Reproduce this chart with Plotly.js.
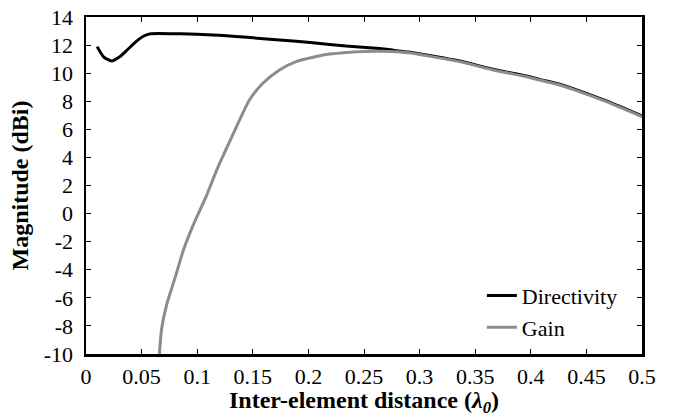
<!DOCTYPE html>
<html>
<head>
<meta charset="utf-8">
<script src="https://cdn.plot.ly/plotly-3.0.1.min.js"></script>
<style>
html,body{margin:0;padding:0;background:#fff;}
#chart{width:686px;height:417px;}
</style>
</head>
<body>
<div id="chart"></div>
<script>
// Directivity (dBi) vs inter-element distance (wavelengths)
var directivityX = [0.010, 0.016, 0.023, 0.030, 0.037, 0.045, 0.052, 0.058, 0.085, 0.114, 0.145, 0.174, 0.204, 0.234, 0.264, 0.276, 0.290, 0.306, 0.336, 0.366, 0.396, 0.408, 0.426, 0.438, 0.468, 0.500];
var directivityY = [11.89, 11.15, 10.87, 11.15, 11.65, 12.25, 12.65, 12.81, 12.80, 12.72, 12.55, 12.36, 12.17, 11.93, 11.75, 11.64, 11.50, 11.30, 10.87, 10.28, 9.80, 9.56, 9.21, 8.90, 8.02, 6.95];
// Gain (dBi)
var gainX = [0.066, 0.068, 0.0725, 0.080, 0.088, 0.0965, 0.1085, 0.1175, 0.1325, 0.147, 0.159, 0.174, 0.189, 0.204, 0.219, 0.234, 0.250, 0.267, 0.290, 0.306, 0.336, 0.366, 0.396, 0.408, 0.426, 0.438, 0.468, 0.500];
var gainY = [-10.0, -8.2, -6.5, -4.6, -2.5, -0.8, 1.3, 3.1, 5.7, 8.09, 9.28, 10.23, 10.82, 11.13, 11.36, 11.48, 11.55, 11.56, 11.45, 11.25, 10.82, 10.23, 9.75, 9.51, 9.16, 8.85, 7.97, 6.90];
// Axis ticks
var xTickVals = [0, 0.05, 0.1, 0.15, 0.2, 0.25, 0.3, 0.35, 0.4, 0.45, 0.5];
var xTickText = ["0", "0.05", "0.1", "0.15", "0.2", "0.25", "0.3", "0.35", "0.4", "0.45", "0.5"];
var yTickVals = [-10, -8, -6, -4, -2, 0, 2, 4, 6, 8, 10, 12, 14];
var yTickText = ["-10", "-8", "-6", "-4", "-2", "0", "2", "4", "6", "8", "10", "12", "14"];

var FONT = 'Liberation Serif';

var traces = [
  {x: directivityX, y: directivityY, type: 'scatter', mode: 'lines', name: 'Directivity',
   line: {color: '#000000', width: 3, shape: 'spline', smoothing: 0.6}},
  {x: gainX, y: gainY, type: 'scatter', mode: 'lines', name: 'Gain',
   line: {color: '#8c8c8c', width: 3, shape: 'spline', smoothing: 0.6}}
];

function axisBase() {
  return {
    showgrid: false, zeroline: false, showline: true, linecolor: '#000', linewidth: 2.5,
    mirror: 'ticks', ticks: 'inside', ticklen: 5, tickwidth: 1, tickcolor: '#000',
    tickfont: {family: FONT, size: 22, color: '#000'}
  };
}

var xaxis = axisBase();
xaxis.range = [0, 0.5];
xaxis.tickmode = 'array';
xaxis.tickvals = xTickVals;
xaxis.ticktext = xTickText;
xaxis.ticklabelstandoff = 1;
xaxis.title = {text: '<b>Inter-element distance (<i>λ<sub>0</sub></i>)</b>', font: {family: FONT, size: 24, color: '#000'}, standoff: 5};

var yaxis = axisBase();
yaxis.range = [-10, 14];
yaxis.tickmode = 'array';
yaxis.tickvals = yTickVals;
yaxis.ticktext = yTickText;
yaxis.ticklabelstandoff = 6;
yaxis.title = {text: '<b>Magnitude (dBi)</b>', font: {family: FONT, size: 24, color: '#000'}, standoff: 9};

var layout = {
  width: 686, height: 417,
  font: {family: FONT, size: 22, color: '#000'},
  margin: {l: 86, r: 44, t: 17, b: 63},
  paper_bgcolor: '#fff', plot_bgcolor: '#fff',
  showlegend: true,
  legend: {x: 0.712, y: 0.235, xanchor: 'left', yanchor: 'top', bgcolor: 'rgba(0,0,0,0)',
           font: {family: FONT, size: 22, color: '#000'}, tracegroupgap: 0},
  xaxis: xaxis,
  yaxis: yaxis
};

Plotly.newPlot('chart', traces, layout, {staticPlot: true, displayModeBar: false});
</script>
</body>
</html>
